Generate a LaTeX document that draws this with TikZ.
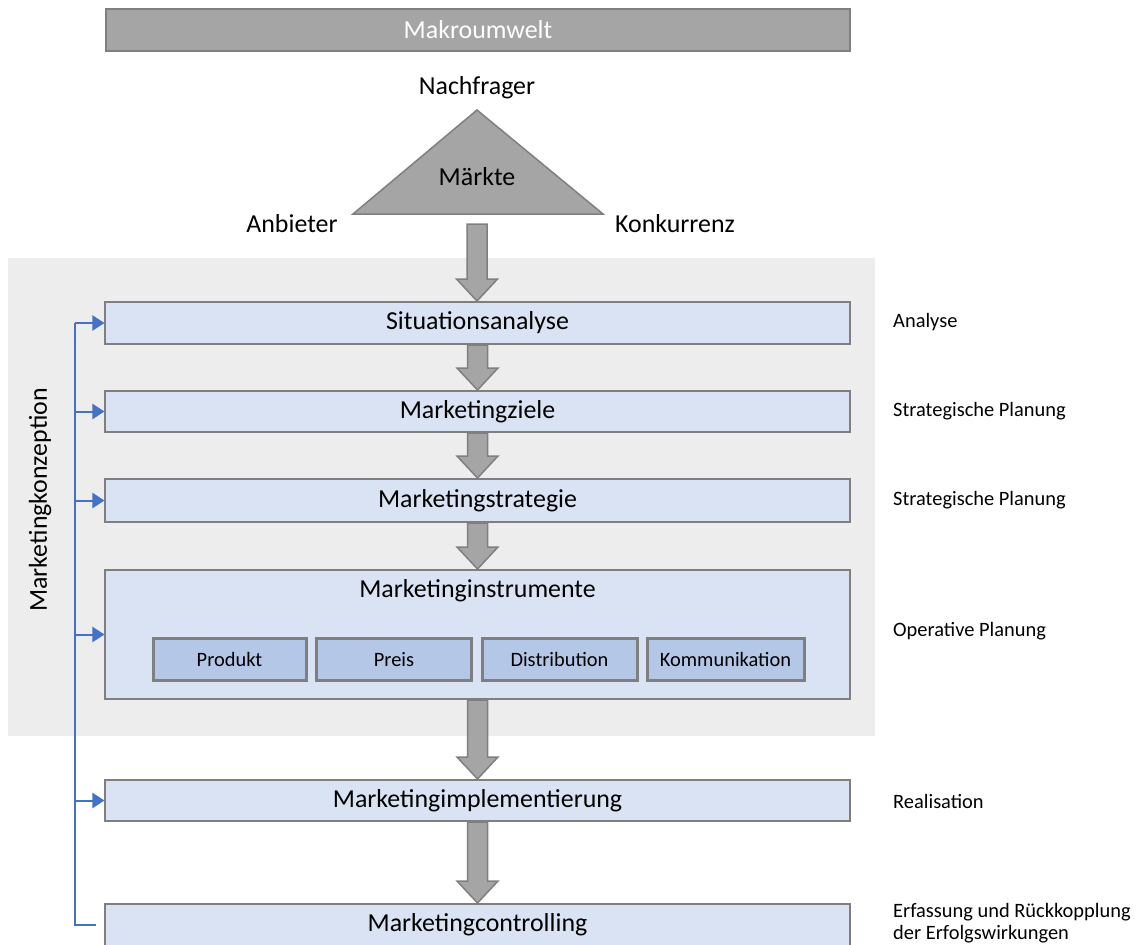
\documentclass[tikz,border=0pt]{standalone}
\usepackage{fontspec}
\setmainfont{Carlito}
\usetikzlibrary{calc,arrows.meta}
\definecolor{greyfill}{HTML}{A5A5A5}
\definecolor{greyline}{HTML}{7F7F7F}
\definecolor{panel}{HTML}{EDEDED}
\definecolor{stagefill}{HTML}{DAE3F3}
\definecolor{toolfill}{HTML}{B4C7E7}
\definecolor{flow}{HTML}{4472C4}
\begin{document}
\begin{tikzpicture}[x=1bp,y=-1bp,
  big/.style={font=\fontsize{26}{30}\selectfont},
  small/.style={font=\fontsize{20.5}{22.5}\selectfont},
  stage/.style={draw=greyline,line width=2bp,fill=stagefill,minimum width=744bp,inner sep=0pt,big},
  tool/.style={draw=greyline,line width=3bp,fill=toolfill,minimum height=42bp,inner sep=0pt,small},
  phase/.style={anchor=west,inner sep=0pt,align=left,small},
  fat/.style={draw=greyline,line width=1.5bp,fill=greyfill,
    to path={let \p1=(\tikztostart), \p2=(\tikztotarget) in
      (\x1-10bp,\y1) -- (\x1-10bp,\y2+22bp) -- (\x1-20.5bp,\y2+22bp) -- (\x1,\y2)
      -- (\x1+20.5bp,\y2+22bp) -- (\x1+10bp,\y2+22bp) -- (\x1+10bp,\y1) -- cycle}},
  feed/.style={draw=flow,line width=2bp},
  feedarr/.style={feed,-{Triangle[length=12bp,width=15bp]}},
]
\useasboundingbox (0,0) rectangle (1142,945);

% shaded frame of the marketing concept
\fill[panel] (8,258) rectangle (875,736);

% macro environment
\node[draw=greyline,line width=2bp,fill=greyfill,minimum width=744bp,minimum height=42bp,
  inner sep=0pt,text=white,big] (makro) at (478,30) {Makroumwelt};

% market triangle
\coordinate (tapex) at (477,110);
\coordinate (tright) at (603,214);
\coordinate (tleft) at (353,214);
\filldraw[fill=greyfill,draw=greyline,line width=1.5bp] (tapex) -- (tright) -- (tleft) -- cycle;
\node[big] (markt) at (477,177) {Märkte};
\node[big] (nachfrager) at (477,88) {Nachfrager};
\node[big] (anbieter) at (292,224) {Anbieter};
\node[big] (konkurrenz) at (675,224) {Konkurrenz};
\coordinate (marktout) at (477,224);

% planning stages
\node[stage,minimum height=42bp] (sit) at (477.5,323) {Situationsanalyse};
\node[stage,minimum height=41bp] (ziele) at (477.5,411.5) {Marketingziele};
\node[stage,minimum height=43bp] (strat) at (477.5,500.5) {Marketingstrategie};
\node[stage,minimum height=129bp] (instr) at (477.5,634.5) {};
\node[big] (instrlabel) at (477.5,591) {Marketinginstrumente};
\node[tool,minimum width=153bp] (produkt) at (229.5,659.5) {Produkt};
\node[tool,minimum width=155bp] (preis) at (394,659.5) {Preis};
\node[tool,minimum width=155bp] (distribution) at (559.5,659.5) {Distribution};
\node[tool,minimum width=157bp] (kommunikation) at (725.5,659.5) {Kommunikation};
\node[stage,minimum height=41bp] (impl) at (477.5,800.5) {Marketingimplementierung};
\node[stage,minimum height=42bp] (ctrl) at (477.5,925) {Marketingcontrolling};

% block arrows between the stages
\path[fat] (marktout) to (sit.north);
\path[fat] (sit.south) to (ziele.north);
\path[fat] (ziele.south) to (strat.north);
\path[fat] (strat.south) to (instr.north);
\path[fat] (instr.south) to (impl.north);
\path[fat] (impl.south) to (ctrl.north);

% feedback line of the marketing concept
\coordinate (bus) at (75,0);
\node[rotate=90,big] (konzeption) at (40,500) {Marketingkonzeption};
\draw[feed] (sit.west -| bus) -- (ctrl.west -| bus) -- ($(ctrl.west)+(-8,0)$);
\draw[feedarr] (sit.west -| bus) -- (sit.west);
\draw[feedarr] (ziele.west -| bus) -- (ziele.west);
\draw[feedarr] (strat.west -| bus) -- (strat.west);
\draw[feedarr] (instr.west -| bus) -- (instr.west);
\draw[feedarr] (impl.west -| bus) -- (impl.west);

% phase labels
\node[phase] (p1) at (893,322) {Analyse};
\node[phase] (p2) at (893,411) {Strategische Planung};
\node[phase] (p3) at (893,500) {Strategische Planung};
\node[phase] (p4) at (893,631) {Operative Planung};
\node[phase] (p5) at (893,801) {Realisation};
\node[phase] (p6) at (893,923) {Erfassung und Rückkopplung\\der Erfolgswirkungen};
\end{tikzpicture}
\end{document}
